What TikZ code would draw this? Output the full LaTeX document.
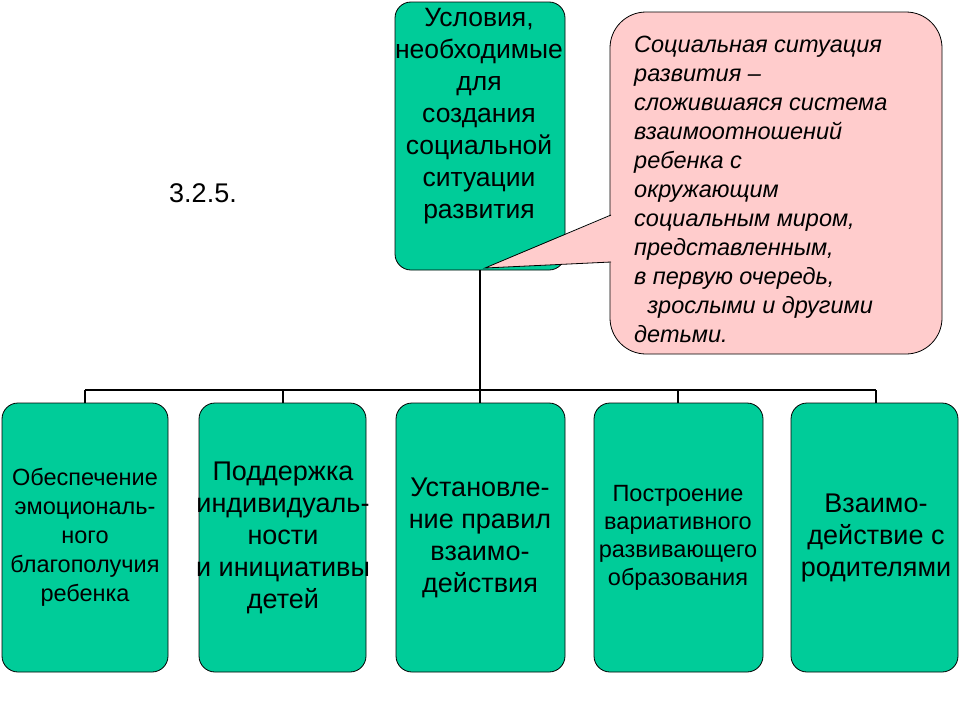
\documentclass[tikz,border=0pt]{standalone}
\usepackage{fontspec}
\setmainfont{Liberation Sans}
\definecolor{gr}{RGB}{0,204,153}
\definecolor{pk}{RGB}{255,204,204}
\begin{document}
\begin{tikzpicture}[x=1pt,y=-1pt,
  box/.style={draw=black,fill=gr,rounded corners=16pt,line width=0.8pt},
  lbl/.style={align=center,inner sep=0pt},
  ln/.style={line width=2pt}]
\useasboundingbox (0,0) rectangle (960,720);
\draw[box] (395,2) rectangle (565,270);
\node[lbl,font=\fontsize{26.5}{32}\selectfont] (top) at (479,116) {Условия,\\необходимые\\для\\создания\\социальной\\ситуации\\развития};
\coordinate (tb) at (480,270);
\coordinate (hb) at (480,390);
\draw[ln] (tb) -- (hb);
\draw[ln] (85,390) -- (876,390);
\foreach \x/\n in {85/a,283/b,480/c,678/d,876/e}{\draw[ln] (\x,390) -- (\x,403);}
\draw[box] (2,403) rectangle (168,672);
\draw[box] (199,403) rectangle (366,672);
\draw[box] (396,403) rectangle (565,672);
\draw[box] (594,403) rectangle (763,672);
\draw[box] (791,403) rectangle (958,672);
\node[lbl,font=\fontsize{23.5}{29}\selectfont] (b1) at (85,537) {Обеспечение\\эмоциональ-\\ного\\благополучия\\ребенка};
\node[lbl,font=\fontsize{27}{32}\selectfont] (b2) at (283,538) {Поддержка\\индивидуаль-\\ности\\и инициативы\\детей};
\node[lbl,font=\fontsize{27}{32}\selectfont] (b3) at (480,538) {Установле-\\ние правил\\взаимо-\\действия};
\node[lbl,font=\fontsize{23.5}{28}\selectfont] (b4) at (678,538) {Построение\\вариативного\\развивающего\\образования};
\node[lbl,font=\fontsize{27}{32}\selectfont] (b5) at (876,538) {Взаимо-\\действие с\\родителями};
\draw[fill=pk,line width=0.8pt,rounded corners=36pt] (610,12) rectangle (942,354);
\fill[pk] (613,215) -- (485,268) -- (613,262) -- cycle;
\draw[line width=0.8pt] (611,215) -- (485,268) -- (611,262);
\node[lbl,align=left,anchor=north west,font=\fontsize{23.5}{29}\selectfont\itshape] (call) at (634,36) {Социальная ситуация\\развития –\\сложившаяся система\\взаимоотношений\\ребенка с\\окружающим\\социальным миром,\\представленным,\\в первую очередь,\\\ \ зрослыми и другими\\детьми.};
\node[lbl,font=\fontsize{27}{26}\selectfont] (num) at (203,193) {3.2.5.};
\end{tikzpicture}
\end{document}
